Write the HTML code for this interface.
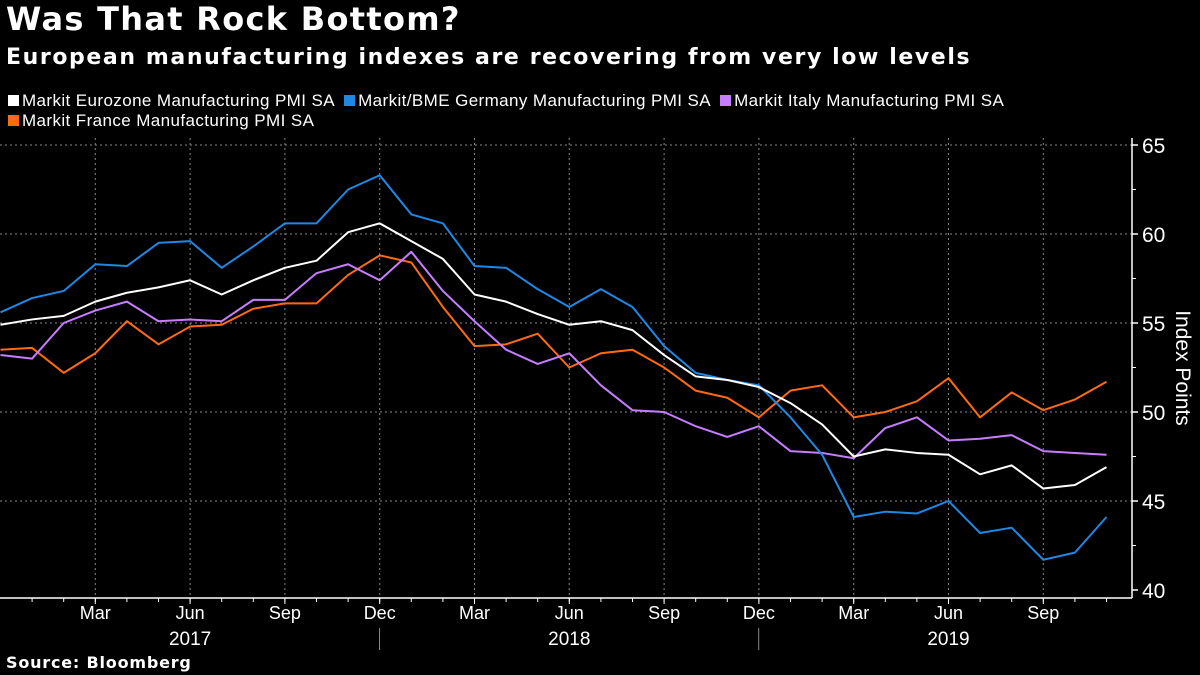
<!DOCTYPE html>
<html><head><meta charset="utf-8">
<style>
body{margin:0;background:#000;width:1200px;height:675px;overflow:hidden;font-family:"Liberation Sans","DejaVu Sans",sans-serif;color:#fff}
.t{position:absolute;left:6px;top:0px;font-size:32px;letter-spacing:1.3px;font-weight:bold;font-family:"DejaVu Sans",sans-serif}
.s{position:absolute;left:6px;top:45px;font-size:22px;letter-spacing:1.6px;font-weight:bold;font-family:"DejaVu Sans",sans-serif}
.src{position:absolute;left:6px;top:653px;font-size:16px;letter-spacing:0.8px;font-weight:bold;font-family:"DejaVu Sans",sans-serif}
.leg{position:absolute;left:8px;top:91px;width:1180px;font-size:17px;letter-spacing:0.4px;line-height:20px}
.le{display:inline-block;margin-right:4px}
.sw{display:inline-block;width:11px;height:11px;margin-right:3px}
</style></head><body>
<div class="t">Was That Rock Bottom?</div>
<div class="s">European manufacturing indexes are recovering from very low levels</div>
<div class="leg">
<span class="le"><span class="sw" style="background:#fff"></span>Markit Eurozone Manufacturing PMI SA</span>
<span class="le"><span class="sw" style="background:#1e88e5"></span>Markit/BME Germany Manufacturing PMI SA</span>
<span class="le"><span class="sw" style="background:#c77dff"></span>Markit Italy Manufacturing PMI SA</span><br>
<span class="le"><span class="sw" style="background:#ff6a13"></span>Markit France Manufacturing PMI SA</span>
</div>
<svg id="c" width="1200" height="675" style="position:absolute;left:0;top:0"></svg>
<div class="src">Source: Bloomberg</div>
<script>
const eurozone=[54.9,55.2,55.4,56.2,56.7,57.0,57.4,56.6,57.4,58.1,58.5,60.1,60.6,59.6,58.6,56.6,56.2,55.5,54.9,55.1,54.6,53.2,52.0,51.8,51.4,50.5,49.3,47.5,47.9,47.7,47.6,46.5,47.0,45.7,45.9,46.9];
const germany=[55.6,56.4,56.8,58.3,58.2,59.5,59.6,58.1,59.3,60.6,60.6,62.5,63.3,61.1,60.6,58.2,58.1,56.9,55.9,56.9,55.9,53.7,52.2,51.8,51.5,49.7,47.6,44.1,44.4,44.3,45.0,43.2,43.5,41.7,42.1,44.1];
const italy=[53.2,53.0,55.0,55.7,56.2,55.1,55.2,55.1,56.3,56.3,57.8,58.3,57.4,59.0,56.8,55.1,53.5,52.7,53.3,51.5,50.1,50.0,49.2,48.6,49.2,47.8,47.7,47.4,49.1,49.7,48.4,48.5,48.7,47.8,47.7,47.6];
const france=[53.5,53.6,52.2,53.3,55.1,53.8,54.8,54.9,55.8,56.1,56.1,57.7,58.8,58.4,55.9,53.7,53.8,54.4,52.5,53.3,53.5,52.5,51.2,50.8,49.7,51.2,51.5,49.7,50.0,50.6,51.9,49.7,51.1,50.1,50.7,51.7];
const monthLabels=["Mar","Jun","Sep","Dec","Mar","Jun","Sep","Dec","Mar","Jun","Sep"];
const monthIdx=[3,6,9,12,15,18,21,24,27,30,33];
const yearLabels=["2017","2018","2019"];
const yTicks=[40,45,50,55,60,65];
const svg=document.getElementById('c');const NS='http://www.w3.org/2000/svg';
function x(i){return 0.5+i*31.6}
function y(v){return 590-(v-40)*17.8}
function el(t,a,p){const e=document.createElementNS(NS,t);for(const k in a)e.setAttribute(k,a[k]);(p||svg).appendChild(e);return e}
yTicks.forEach(v=>{
 if(v>40){const g=el('line',{x1:0,x2:1132,y1:y(v),y2:y(v),stroke:'#888','stroke-dasharray':'2,3','stroke-width':1});
 
 }
 const t=el('text',{x:1142,y:y(v)+8,fill:'#fff','font-size':21,'font-family':'Liberation Sans, sans-serif'});t.textContent=v;
 
 
 el('line',{x1:1132,x2:1138,y1:y(v),y2:y(v),stroke:'#fff','stroke-width':1.5});
 if(v<65)el('line',{x1:1132,x2:1136,y1:y(v+2.5),y2:y(v+2.5),stroke:'#fff','stroke-width':1});
});
el('line',{x1:1132,x2:1132,y1:138,y2:598,stroke:'#fff','stroke-width':1.5});
el('line',{x1:0,x2:1132,y1:598,y2:598,stroke:'#fff','stroke-width':1.5});
monthIdx.forEach((m,k)=>{
 const g=el('line',{x1:x(m),x2:x(m),y1:138,y2:598,stroke:'#888','stroke-dasharray':'2,3'});
 
 
 el('line',{x1:x(m),x2:x(m),y1:598,y2:604,stroke:'#fff'});
 const t=el('text',{x:x(m),y:619,fill:'#fff','font-size':18,'text-anchor':'middle'});t.textContent=monthLabels[k];
 
 
});
for(let i=1;i<36;i++)el('line',{x1:x(i),x2:x(i),y1:598,y2:602,stroke:'#fff'});
[12.5,24.5].forEach(m=>el('line',{x1:x(m)-16,x2:x(m)-16,y1:628,y2:650,stroke:'#888'}));
yearLabels.forEach((yl,k)=>{const t=el('text',{x:x(6+12*k),y:645,fill:'#fff','font-size':19,'text-anchor':'middle'});t.textContent=yl;
 
 });
const tl=el('text',{transform:'translate(1176,368) rotate(90)',fill:'#fff','font-size':21,'text-anchor':'middle'});tl.textContent='Index Points';


[[france,'#ff6a13','france'],[italy,'#c77dff','italy'],[germany,'#1e88e5','germany'],[eurozone,'#fff','eurozone']].forEach(([d,c,n])=>{
 const p=el('polyline',{points:d.map((v,i)=>x(i)+','+y(v)).join(' '),fill:'none',stroke:c,'stroke-width':2,'stroke-linejoin':'round'});
 
 
});
</script>
</body></html>
